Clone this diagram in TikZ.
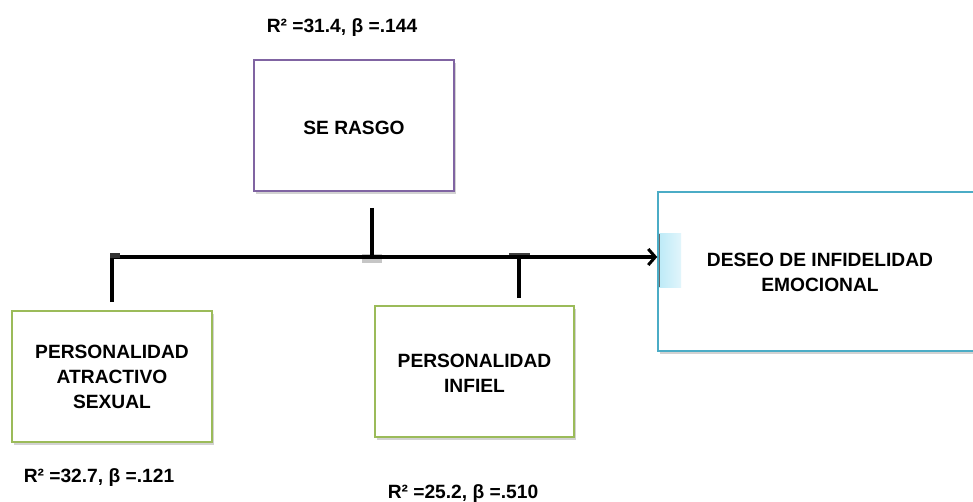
\documentclass[tikz,border=0pt]{standalone}
\usepackage{fontspec}
\setmainfont{Liberation Sans}
\usetikzlibrary{arrows.meta,shadows}
\definecolor{purp}{HTML}{8064A2}
\definecolor{grn}{HTML}{9BBB59}
\definecolor{blu}{HTML}{4BACC6}
\definecolor{lblu}{HTML}{BDEAF7}
\begin{document}
\begin{tikzpicture}[x=1pt,y=-1pt,
  box/.style={draw=#1,line width=1.5pt,fill=white,minimum height=131pt,inner sep=0pt,
    drop shadow={opacity=0.35,shadow xshift=1.5pt,shadow yshift=-3pt}},
  txt/.style={font=\fontsize{19.2}{25}\selectfont\bfseries,align=center,inner sep=0pt},
  conn/.style={line width=3.2pt,black}]
\clip (0,0) rectangle (973,502);
\fill[white] (0,0) rectangle (973,502);
% boxes
\node[box=purp,minimum width=200pt] (se) at (354,125.5) {};
\node[txt] (setxt) at (354,128) {SE RASGO};
\node[box=grn,minimum width=200pt] (pa) at (112,376.5) {};
\node[txt] (patxt) at (112,377) {PERSONALIDAD\\ATRACTIVO\\SEXUAL};
\node[box=grn,minimum width=199pt] (pi) at (474.5,371.5) {};
\node[txt] (pitxt) at (474.5,373) {PERSONALIDAD\\INFIEL};
\node[box=blu,minimum width=324pt,minimum height=159pt] (de) at (820,271.5) {};
\shade[left color=lblu,right color=lblu!45] (659,234) rectangle (681,287);
\draw[gray!80!black,line width=1.2pt] (659.5,234) -- (659.5,287);
\node[txt] (detxt) at (820,272.5) {DESEO DE INFIDELIDAD\\EMOCIONAL};
% labels
\node[txt] (l1) at (342,28) {R² =31.4, β =.144};
\node[txt] (l2) at (99,478) {R² =32.7, β =.121};
\node[txt] (l3) at (463,494) {R² =25.2, β =.510};
% connectors
\coordinate (L) at (112,257);
\coordinate (J1) at (372,257);
\coordinate (J2) at (519,257);
\coordinate (seB) at (372,208);
\coordinate (paT) at (112,302);
\coordinate (piT) at (519,298);
\fill[gray!45] (362,254) rectangle (382,263);
\fill[black!75] (509,253) rectangle (530,259);
\draw[conn,-{Straight Barb[length=7pt,width=16pt,line width=3pt]}] (L) -- (L -| de.west);
\draw[conn] (seB) -- (J1);
\draw[conn] (paT) -- (L);
\draw[conn] (piT) -- (J2);
\fill[black!80] (110.4,253.5) rectangle (120,258);
\end{tikzpicture}
\end{document}
